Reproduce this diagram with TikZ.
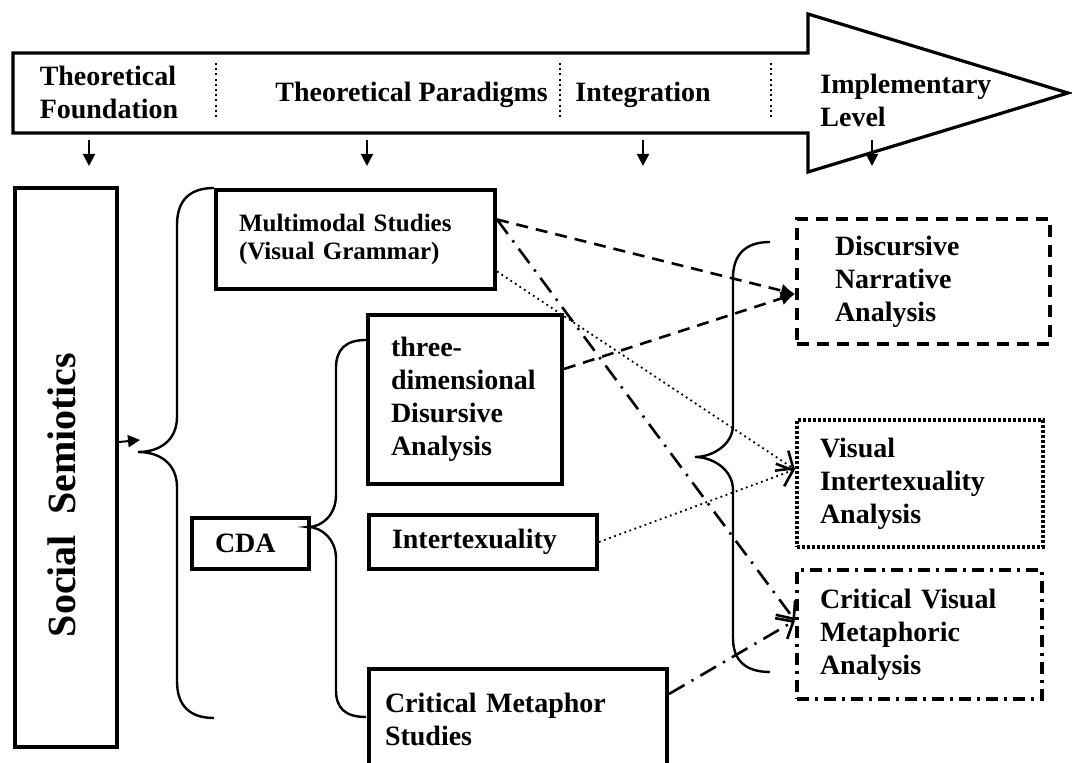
\documentclass[tikz,border=0pt]{standalone}
\usepackage{fontspec}
\setmainfont{Liberation Serif}
\usepackage{tikz}
\usetikzlibrary{arrows.meta}

\begin{document}
\begin{tikzpicture} %Diagrama 1
      [
      x=0.5pt, y=-0.5pt,
      every node/.style={font=\bfseries\fontsize{14pt}{16.5pt}\selectfont},
      caja/.style={draw, line width=2pt, anchor=north west, align=left, inner xsep=11.5pt, inner ysep=2pt},
      encabezado/.style={inner sep=0pt, align=left},
      llave/.style={line width=1.2pt},
      flecha/.style={line width=1pt, -{Triangle[length=6pt,width=6pt]}},
      abierta/.style={-{Straight Barb[length=7pt,width=12pt,line width=1.3pt]}}
      ]
      \useasboundingbox (0,0) rectangle (1072,763);
      \clip (0,0) rectangle (1072,763);

      % banda superior
      \draw[line width=1.6pt] (13,53) -- (808,53) -- (808,14) -- (1068,93) -- (808,172) -- (808,133) -- (13,133) -- cycle;
      \begin{scope}[line width=1pt, dash pattern=on 1pt off 1.6pt]
        \draw (216,63) -- (216,117); \draw (560,63) -- (560,117); \draw (771,63) -- (771,117);
      \end{scope}
      \node[encabezado] (tf) at (109,92) {Theoretical\\Foundation};
      \node[encabezado, anchor=base west] (tp) at (275,102) {Theoretical Paradigms};
      \node[encabezado, anchor=base west] (ig) at (575,102) {Integration};
      \node[encabezado, anchor=west] (il) at (820,100) {Implementary\\Level};
      \coordinate (f1) at (89,140); \coordinate (f2) at (367,140); \coordinate (f3) at (643,140); \coordinate (f4) at (872,140);
      \draw[flecha] (f1) -- ++(0,26); \draw[flecha] (f2) -- ++(0,26); \draw[flecha] (f3) -- ++(0,26); \draw[flecha] (f4) -- ++(0,26);

      % cajas
      \node[caja, minimum width=51pt, minimum height=279.5pt] (ss) at (13,186) {};
      \node[rotate=90, font=\bfseries\fontsize{20pt}{24pt}\selectfont] (sst) at (62,495) {Social\hspace{0.5em}Semiotics};
      \node[caja, text width=116.5pt, minimum height=49.5pt, font=\bfseries\fontsize{12.5pt}{14pt}\selectfont] (mm) at (214,188) {Multimodal Studies\\(Visual Grammar)};
      \node[caja, text width=74pt, minimum height=84.5pt] (td) at (366,313) {three-\\dimensional\\Disursive\\Analysis};
      \node[caja, text width=35.5pt, minimum height=25.5pt] (cda) at (190,516) {CDA};
      \node[caja, text width=91pt, minimum height=27pt] (itx) at (367,513) {Intertexuality};
      \node[caja, inner xsep=8pt, text width=133pt, minimum height=50pt] (cms) at (367,667) {Critical Metaphor\\Studies};
      \node[caja, dash pattern=on 6pt off 4pt, inner xsep=19pt, text width=88.5pt, minimum height=62.5pt] (dna) at (795,217) {Discursive\\Narrative\\Analysis};
      \node[caja, dash pattern=on 1.6pt off 0.9pt, text width=100pt, minimum height=63.5pt] (via) at (795,418) {Visual\\Intertexuality\\Analysis};
      \node[caja, dash pattern=on 6pt off 3pt on 1.5pt off 3pt, text width=99.5pt, minimum height=64.5pt] (cvma) at (795,568) {Critical Visual\\Metaphoric\\Analysis};

      % llaves
      \coordinate (t1) at (138,452); \coordinate (t2) at (308,527); \coordinate (t3) at (695,457);
      \draw[llave] (mm.north west) .. controls (190,188) and (177,200) .. (177,225) -- (177,417)
        .. controls (177,440) and (160,452) .. (t1) .. controls (160,452) and (177,464) .. (177,487)
        -- (177,681) .. controls (177,706) and (190,718) .. (214,718);
      \draw[llave] (366,340) .. controls (345,340) and (336,350) .. (336,368) -- (336,495)
        .. controls (336,515) and (322,527) .. (t2) .. controls (322,527) and (336,540) .. (336,558)
        -- (336,690) .. controls (336,708) and (345,717) .. (366,717);
      \draw[llave] (770,242) .. controls (745,242) and (733,255) .. (733,278) -- (733,425)
        .. controls (733,445) and (712,457) .. (t3) .. controls (712,457) and (733,469) .. (733,490)
        -- (733,638) .. controls (733,660) and (745,672) .. (770,672);
      \coordinate (s1) at (140,440);
      \draw[flecha] ([yshift=12.75pt]ss.east) -- (s1);

      % conectores
      \begin{scope}[line width=1.3pt, dash pattern=on 6pt off 4pt]
        \draw[-{Latex[length=7pt,width=7pt]}] ([yshift=10pt]mm.east) -- ([yshift=-6.25pt]dna.west);
        \draw[-{Latex[length=7pt,width=7pt]}] ([yshift=15.25pt]td.east) -- ([yshift=-6.25pt]dna.west);
      \end{scope}
      \begin{scope}[line width=0.9pt, dash pattern=on 0.9pt off 1.8pt]
        \draw[abierta] ([yshift=-16pt]mm.east) -- ([yshift=7pt]via.west);
        \draw[abierta] (itx.east) -- ([yshift=7pt]via.west);
      \end{scope}
      \begin{scope}[line width=1.3pt, dash pattern=on 9pt off 4pt on 1.2pt off 4pt]
        \draw[abierta] ([yshift=10pt]mm.east) -- ([yshift=7pt]cvma.west);
        \draw[abierta] ([yshift=12.5pt]cms.east) -- ([yshift=7pt]cvma.west);
      \end{scope}

\end{tikzpicture}
\end{document}
